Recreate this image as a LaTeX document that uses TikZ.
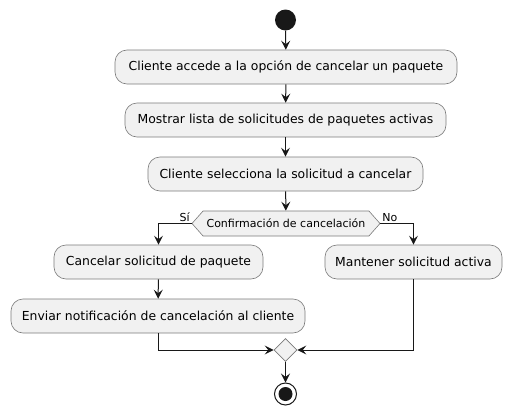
\documentclass[tikz,border=0pt]{standalone}
\usepackage{fontspec}
\setmainfont{DejaVu Sans}
\usetikzlibrary{arrows.meta,shapes.symbols,shapes.geometric}
\definecolor{actfill}{HTML}{F1F1F1}
\definecolor{actline}{HTML}{7A7A7A}
\definecolor{ink}{HTML}{181818}
\tikzset{
    action/.style={draw=actline,fill=actfill,rounded corners=12pt,line width=0.6pt,
        minimum height=34pt,inner xsep=6pt,font=\fontsize{12.4}{14}\selectfont},
    decide/.style={signal,signal to=west and east,signal pointer angle=97,draw=actline,fill=actfill,
        line width=0.6pt,minimum height=25pt,inner xsep=2pt,font=\fontsize{11}{12}\selectfont},
    merge/.style={diamond,draw=actline,fill=actfill,line width=0.6pt,minimum size=23pt,inner sep=0pt},
    flow/.style={draw=ink,line width=1pt,-{Stealth[length=9pt,width=9pt,inset=3.5pt]}},
    guard/.style={font=\fontsize{11}{12}\selectfont,inner sep=1.5pt},
}
\begin{document}
\begin{tikzpicture}[x=1pt,y=-1pt]
\useasboundingbox (0,0) rectangle (512,415);
\node[circle,fill=ink,minimum size=21pt,inner sep=0pt] (start) at (285.5,20) {};
\node[action,minimum width=342pt] (accede) at (286,67) {Cliente accede a la opción de cancelar un paquete};
\node[action,minimum width=321pt] (lista) at (285.5,120) {Mostrar lista de solicitudes de paquetes activas};
\node[action,minimum width=275pt] (selecciona) at (285.5,174) {Cliente selecciona la solicitud a cancelar};
\node[decide,minimum width=188pt] (confirma) at (286,223.5) {Confirmación de cancelación};
\node[action,minimum width=209pt] (cancelar) at (158.5,262) {Cancelar solicitud de paquete};
\node[action,minimum width=294pt] (notifica) at (158,316) {Enviar notificación de cancelación al cliente};
\node[action,minimum width=177pt] (mantener) at (413.5,262) {Mantener solicitud activa};
\node[merge] (junta) at (285.5,350) {};
\node[circle,draw=ink,fill=white,line width=1pt,minimum size=22pt,inner sep=0pt] (stop) at (285.5,394) {};
\fill[ink] (stop.center) circle (7pt);
% flujo principal
\draw[flow] (start) -- (accede);
\draw[flow] (accede) -- (lista);
\draw[flow] (lista) -- (selecciona);
\draw[flow] (selecciona) -- (confirma);
% ramas
\draw[flow] (confirma.west) node[guard,above left] {Sí} -| (cancelar);
\draw[flow] (confirma.east) node[guard,above right] {No} -| (mantener);
\draw[flow] (cancelar) -- (notifica);
\draw[flow] (notifica) |- (junta);
\draw[flow] (mantener) |- (junta);
\draw[flow] (junta) -- (stop);
\end{tikzpicture}
\end{document}
